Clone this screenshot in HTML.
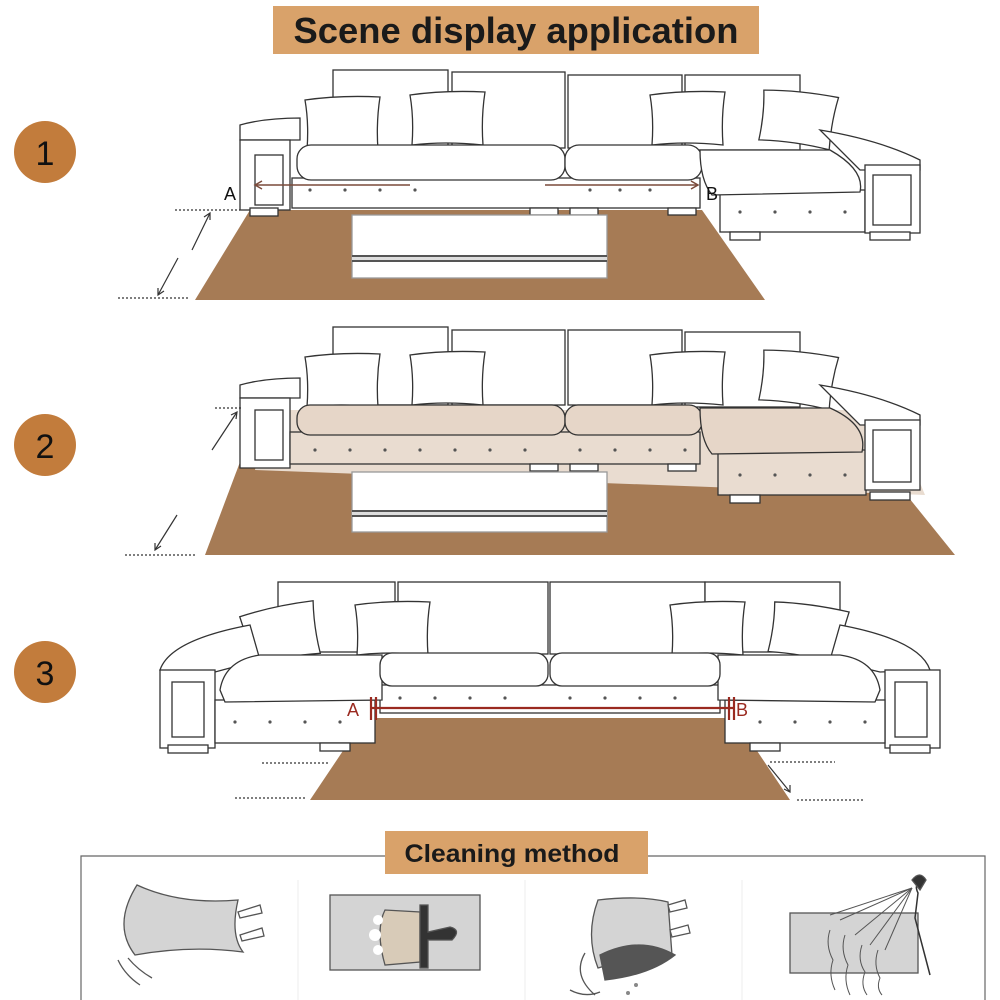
<!DOCTYPE html>
<html><head><meta charset="utf-8"><style>
html,body{margin:0;padding:0;background:#fff;width:1000px;height:1000px;overflow:hidden}
svg{display:block}
text{font-family:"Liberation Sans",sans-serif}
</style></head><body>
<svg width="1000" height="1000" viewBox="0 0 1000 1000" xmlns="http://www.w3.org/2000/svg">
<defs>
<g id="pil"><path d="M0 5 Q35 0 75 2 Q71 28 73 55 Q35 51 2 55 Q4 28 0 5Z" fill="#fff" stroke="#333" stroke-width="1.3"/></g>
</defs>
<rect width="1000" height="1000" fill="#fff"/>
<rect x="273" y="6" width="486" height="48" fill="#d9a26a"/>
<text x="516" y="43" font-size="36" font-weight="bold" text-anchor="middle" fill="#1a1a1a" textLength="445" lengthAdjust="spacingAndGlyphs">Scene display application</text>

<g fill="#c27c3c"><circle cx="45" cy="152" r="31"/><circle cx="45" cy="445" r="31"/><circle cx="45" cy="672" r="31"/></g>
<g font-size="34" fill="#111" text-anchor="middle"><text x="45" y="165">1</text><text x="45" y="458">2</text><text x="45" y="685">3</text></g>

<g stroke="#333" stroke-width="1.3" fill="#fff">
<polygon points="250,210 702,210 765,300 195,300" fill="#a67b55" stroke="none"/>
<rect x="333" y="70" width="115" height="78"/><rect x="452" y="72" width="113" height="76"/>
<rect x="568" y="75" width="114" height="73"/><rect x="685" y="75" width="115" height="75"/>
<use href="#pil" x="305" y="95"/><use href="#pil" x="410" y="90"/><use href="#pil" x="650" y="90"/>
<use href="#pil" x="760" y="90" transform="rotate(8 797 120)"/>
<path d="M240 140 L240 125 Q265 118 300 118 L300 140Z"/>
<rect x="240" y="140" width="50" height="70"/><rect x="255" y="155" width="28" height="50"/>
<rect x="292" y="178" width="408" height="30"/>
<rect x="297" y="145" width="268" height="35" rx="14"/><rect x="565" y="145" width="137" height="35" rx="14"/>
<path d="M820 130 Q880 140 920 160 L920 170 L860 170Z"/>
<rect x="720" y="190" width="145" height="42"/>
<path d="M700 150 L830 150 Q865 170 860 192 L712 195 Q700 180 700 150Z"/>
<rect x="865" y="165" width="55" height="68"/><rect x="873" y="175" width="38" height="50"/>
<rect x="250" y="208" width="28" height="8"/><rect x="530" y="208" width="28" height="7"/><rect x="570" y="208" width="28" height="7"/><rect x="668" y="208" width="28" height="7"/>
<rect x="730" y="232" width="30" height="8"/><rect x="870" y="232" width="40" height="8"/>
<rect x="352" y="215" width="255" height="63" stroke="#999"/>
<rect x="352" y="255" width="255" height="7" fill="#555" stroke="none"/>
<rect x="352" y="257" width="255" height="3" fill="#ddd" stroke="none"/>

<polygon points="240,462 880,462 955,555 205,555" fill="#a67b55" stroke="none"/>
<polygon points="268,410 890,410 925,495 255,470" fill="#e9dcd0" stroke="none"/>
<rect x="333" y="327" width="115" height="78"/><rect x="452" y="330" width="113" height="75"/>
<rect x="568" y="330" width="114" height="75"/><rect x="685" y="332" width="115" height="75"/>
<use href="#pil" x="305" y="352"/><use href="#pil" x="410" y="350"/><use href="#pil" x="650" y="350"/>
<use href="#pil" x="760" y="350" transform="rotate(8 797 380)"/>
<path d="M240 398 L240 385 Q265 378 300 378 L300 398Z"/>
<rect x="240" y="398" width="50" height="70"/><rect x="255" y="410" width="28" height="50"/>
<rect x="290" y="432" width="410" height="32" fill="#e9dcd0"/>
<rect x="297" y="405" width="268" height="30" rx="13" fill="#e6d6c8"/><rect x="565" y="405" width="137" height="30" rx="13" fill="#e6d6c8"/>
<path d="M820 385 Q880 395 920 415 L920 425 L860 425Z"/>
<rect x="718" y="450" width="148" height="45" fill="#e9dcd0"/>
<path d="M700 408 L830 408 Q868 425 862 452 L712 454 Q700 440 700 408Z" fill="#e6d6c8"/>
<rect x="865" y="420" width="55" height="70"/><rect x="873" y="430" width="38" height="52"/>
<rect x="530" y="464" width="28" height="7"/><rect x="570" y="464" width="28" height="7"/><rect x="668" y="464" width="28" height="7"/>
<rect x="730" y="495" width="30" height="8"/><rect x="870" y="492" width="40" height="8"/>
<rect x="352" y="472" width="255" height="60" stroke="#999"/>
<rect x="352" y="510" width="255" height="7" fill="#555" stroke="none"/>
<rect x="352" y="512" width="255" height="3" fill="#ddd" stroke="none"/>

<polygon points="365,718 735,718 790,800 310,800" fill="#a67b55" stroke="none"/>
<rect x="278" y="582" width="117" height="70"/><rect x="398" y="582" width="150" height="72"/>
<rect x="550" y="582" width="155" height="72"/><rect x="705" y="582" width="135" height="70"/>
<use href="#pil" x="243" y="605" transform="rotate(-10 280 632)"/><use href="#pil" x="355" y="600"/>
<use href="#pil" x="670" y="600"/><use href="#pil" x="770" y="603" transform="rotate(10 807 632)"/>
<path d="M160 670 Q170 640 250 625 L260 660 L215 672Z"/>
<path d="M930 670 Q920 640 840 625 L830 660 L880 672Z"/>
<rect x="160" y="670" width="55" height="78"/><rect x="172" y="682" width="32" height="55"/>
<rect x="885" y="670" width="55" height="78"/><rect x="895" y="682" width="32" height="55"/>
<rect x="215" y="700" width="160" height="43"/><rect x="725" y="700" width="160" height="43"/>
<rect x="380" y="685" width="340" height="28"/>
<path d="M220 690 Q225 660 260 655 L382 655 L382 700 L225 702Z"/>
<path d="M880 690 Q875 660 840 655 L718 655 L718 700 L875 702Z"/>
<rect x="380" y="653" width="168" height="33" rx="12"/><rect x="550" y="653" width="170" height="33" rx="12"/>
<rect x="168" y="745" width="40" height="8"/><rect x="320" y="743" width="30" height="8"/>
<rect x="750" y="743" width="30" height="8"/><rect x="890" y="745" width="40" height="8"/>
</g>

<g fill="#555">
<circle cx="310" cy="190" r="1.6"/><circle cx="345" cy="190" r="1.6"/><circle cx="380" cy="190" r="1.6"/><circle cx="415" cy="190" r="1.6"/><circle cx="590" cy="190" r="1.6"/><circle cx="620" cy="190" r="1.6"/><circle cx="650" cy="190" r="1.6"/>
<circle cx="740" cy="212" r="1.6"/><circle cx="775" cy="212" r="1.6"/><circle cx="810" cy="212" r="1.6"/><circle cx="845" cy="212" r="1.6"/>
<circle cx="315" cy="450" r="1.6"/><circle cx="350" cy="450" r="1.6"/><circle cx="385" cy="450" r="1.6"/><circle cx="420" cy="450" r="1.6"/><circle cx="455" cy="450" r="1.6"/><circle cx="490" cy="450" r="1.6"/><circle cx="525" cy="450" r="1.6"/><circle cx="580" cy="450" r="1.6"/><circle cx="615" cy="450" r="1.6"/><circle cx="650" cy="450" r="1.6"/><circle cx="685" cy="450" r="1.6"/>
<circle cx="740" cy="475" r="1.6"/><circle cx="775" cy="475" r="1.6"/><circle cx="810" cy="475" r="1.6"/><circle cx="845" cy="475" r="1.6"/>
<circle cx="400" cy="698" r="1.6"/><circle cx="435" cy="698" r="1.6"/><circle cx="470" cy="698" r="1.6"/><circle cx="505" cy="698" r="1.6"/><circle cx="570" cy="698" r="1.6"/><circle cx="605" cy="698" r="1.6"/><circle cx="640" cy="698" r="1.6"/><circle cx="675" cy="698" r="1.6"/>
<circle cx="235" cy="722" r="1.6"/><circle cx="270" cy="722" r="1.6"/><circle cx="305" cy="722" r="1.6"/><circle cx="340" cy="722" r="1.6"/>
<circle cx="760" cy="722" r="1.6"/><circle cx="795" cy="722" r="1.6"/><circle cx="830" cy="722" r="1.6"/><circle cx="865" cy="722" r="1.6"/>
</g>

<g stroke="#7a4a3a" stroke-width="1.5" fill="none">
<line x1="255" y1="185" x2="410" y2="185"/><path d="M262 181 L255 185 L262 189"/>
<line x1="545" y1="185" x2="698" y2="185"/><path d="M691 181 L698 185 L691 189"/>
</g>
<text x="224" y="200" font-size="18" fill="#111">A</text>
<text x="706" y="200" font-size="18" fill="#111">B</text>
<g stroke="#333" stroke-width="1.2" fill="none">
<line x1="175" y1="210" x2="240" y2="210" stroke-dasharray="2,2"/>
<line x1="118" y1="298" x2="190" y2="298" stroke-dasharray="2,2"/>
<line x1="192" y1="250" x2="210" y2="213"/><path d="M204 217 L210 213 L210 220"/>
<line x1="178" y1="258" x2="158" y2="295"/><path d="M158 288 L158 295 L164 291"/>
<line x1="215" y1="408" x2="242" y2="408" stroke-dasharray="2,2"/>
<line x1="125" y1="555" x2="195" y2="555" stroke-dasharray="2,2"/>
<line x1="212" y1="450" x2="237" y2="412"/><path d="M231 415 L237 412 L236 419"/>
<line x1="177" y1="515" x2="155" y2="550"/><path d="M155 543 L155 550 L161 546"/>
<line x1="262" y1="763" x2="330" y2="763" stroke-dasharray="2,2"/>
<line x1="235" y1="798" x2="305" y2="798" stroke-dasharray="2,2"/>
<line x1="770" y1="762" x2="835" y2="762" stroke-dasharray="2,2"/>
<line x1="797" y1="800" x2="865" y2="800" stroke-dasharray="2,2"/>
<line x1="768" y1="765" x2="790" y2="792"/><path d="M790 785 L790 792 L784 789"/>
</g>
<g stroke="#9a2a20" stroke-width="2.2">
<line x1="372" y1="708" x2="733" y2="708"/>
<line x1="371" y1="697" x2="371" y2="720"/><line x1="376" y1="697" x2="376" y2="720"/>
<line x1="729" y1="697" x2="729" y2="720"/><line x1="734" y1="697" x2="734" y2="720"/>
</g>
<text x="347" y="716" font-size="18" fill="#9a2a20">A</text>
<text x="736" y="716" font-size="18" fill="#9a2a20">B</text>

<polyline points="81,1000 81,856 985,856 985,1000" fill="none" stroke="#666" stroke-width="1.2"/>
<g stroke="#eee" stroke-width="1"><line x1="298" y1="880" x2="298" y2="1000"/><line x1="525" y1="880" x2="525" y2="1000"/><line x1="742" y1="880" x2="742" y2="1000"/></g>
<rect x="385" y="831" width="263" height="43" fill="#d9a26a"/>
<text x="512" y="862" font-size="25" font-weight="bold" text-anchor="middle" fill="#1a1a1a" textLength="215" lengthAdjust="spacingAndGlyphs">Cleaning method</text>

<g stroke="#555" stroke-width="1.3">
<path d="M135 955 Q112 925 137 885 Q180 905 238 900 Q230 935 243 952 Q190 945 135 955Z" fill="#d4d4d4"/>
<path d="M238 912 L260 905 L262 913 L240 918Z M240 935 L262 928 L264 936 L242 941Z" fill="#fff"/>
<path d="M118 960 Q125 975 140 985 M128 958 Q138 970 152 978" fill="none"/>
<rect x="330" y="895" width="150" height="75" fill="#d4d4d4"/>
<path d="M385 910 Q375 930 385 965 L420 962 L420 912Z" fill="#d8cbb8"/>
<path d="M420 905 L428 905 L428 932 L450 927 Q462 930 452 940 L428 940 L428 968 L420 968Z" fill="#333"/>
<circle cx="378" cy="920" r="5" fill="#fff" stroke="none"/><circle cx="375" cy="935" r="6" fill="#fff" stroke="none"/><circle cx="378" cy="950" r="5" fill="#fff" stroke="none"/>
<path d="M598 900 Q640 895 668 902 L672 955 Q630 958 598 968 Q585 935 598 900Z" fill="#d4d4d4"/>
<path d="M600 955 Q640 935 675 955 Q650 975 605 980Z" fill="#555"/>
<path d="M668 905 L685 900 L687 908 L670 912Z M670 930 L688 925 L690 933 L672 937Z" fill="#fff"/>
<path d="M585 953 Q572 975 595 995 M570 990 Q585 998 600 992" fill="none"/>
<circle cx="628" cy="993" r="2" fill="#888" stroke="none"/><circle cx="636" cy="985" r="2" fill="#888" stroke="none"/>
<rect x="790" y="913" width="128" height="60" fill="#d4d4d4"/>
<path d="M920 882 Q914 885 918 893 L915 918 Q922 945 930 975" fill="none" stroke="#333" stroke-width="1.5"/>
<path d="M912 880 Q920 870 926 880 L920 890Z" fill="#333"/>
<g fill="none" stroke="#555" stroke-width="1">
<line x1="912" y1="888" x2="840" y2="920"/><line x1="912" y1="888" x2="855" y2="935"/><line x1="912" y1="888" x2="870" y2="945"/><line x1="912" y1="888" x2="885" y2="950"/><line x1="912" y1="888" x2="830" y2="915"/>
<path d="M830 930 Q825 945 833 960 Q828 975 835 990"/><path d="M845 935 Q840 950 848 965 Q843 980 850 995"/><path d="M862 945 Q857 960 865 972 Q860 985 867 995"/><path d="M878 950 Q873 965 880 978 Q876 988 882 995"/>
</g>
</g>
</svg>
</body></html>
